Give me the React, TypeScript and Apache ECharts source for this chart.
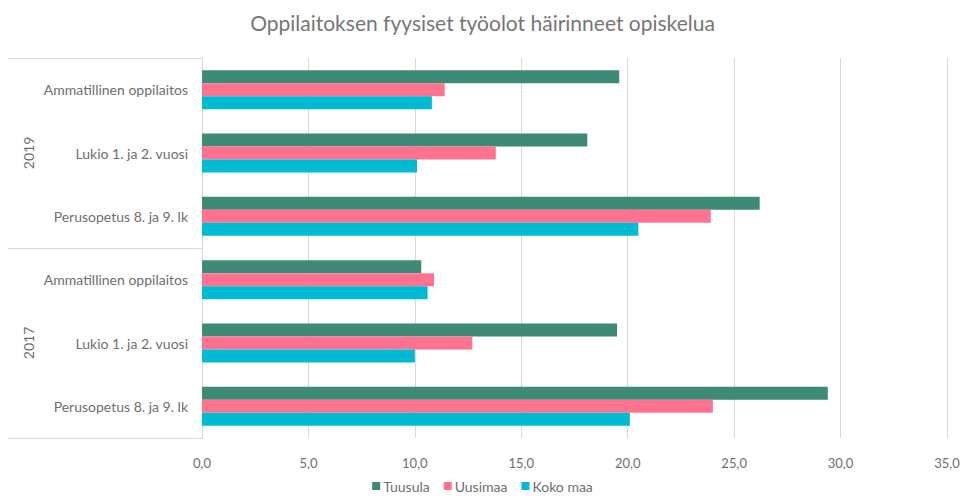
import React, { useEffect, useRef } from "react";
import * as echarts from "echarts";

const years = ["2019", "2017"];
const schoolTypes = ["Ammatillinen oppilaitos", "Lukio 1. ja 2. vuosi", "Perusopetus 8. ja 9. lk"];
// categories top-to-bottom: 2019 group then 2017 group
const categories = [...schoolTypes, ...schoolTypes];
const seriesNames = ["Tuusula", "Uusimaa", "Koko maa"];
const tuusula = [19.6, 18.1, 26.2, 10.3, 19.5, 29.4];
const uusimaa = [11.4, 13.8, 23.9, 10.9, 12.7, 24.0];
const kokoMaa = [10.8, 10.1, 20.5, 10.6, 10.0, 20.1];
const xTicksMax = 35;
const xTickStep = 5;
const colors = ["#3E8A76", "#FF7391", "#00BBD3"];

const FONT = "Lato, 'Open Sans', sans-serif";
const TEXT = "#6e6e6e";
const GRIDC = "#d9d9d9";

export default function App() {
  const ref = useRef<HTMLDivElement>(null);
  useEffect(() => {
    if (!ref.current) return;
    const chart = echarts.init(ref.current, undefined, { renderer: "svg" });
    const values = [tuusula, uusimaa, kokoMaa];
    chart.setOption({
      animation: false,
      color: colors,
      textStyle: { fontFamily: FONT },
      title: {
        text: "Oppilaitoksen fyysiset työolot häirinneet opiskelua",
        left: "center",
        top: 7,
        textStyle: { fontFamily: FONT, fontSize: 21, fontWeight: "normal", color: "#767676" },
      },
      legend: {
        data: seriesNames,
        bottom: 0,
        left: "center",
        itemWidth: 8,
        itemHeight: 8,
        itemGap: 14,
        icon: "rect",
        textStyle: { fontFamily: FONT, fontSize: 14, color: TEXT, padding: [0, 0, 0, -2] },
      },
      grid: { left: 202, right: 18, top: 58, bottom: 60, containLabel: false },
      xAxis: {
        type: "value",
        min: 0,
        max: xTicksMax,
        interval: xTickStep,
        axisLine: { show: false },
        axisTick: { show: false },
        splitLine: { lineStyle: { color: GRIDC, width: 1 } },
        axisLabel: {
          fontFamily: FONT,
          fontSize: 13,
          color: TEXT,
          margin: 18,
          formatter: (v: number) => v.toFixed(1).replace(".", ","),
        },
      },
      yAxis: [
        {
          type: "category",
          data: categories,
          inverse: true,
          axisLine: { show: false },
          axisTick: { show: false },
          axisLabel: { fontFamily: FONT, fontSize: 14, color: TEXT, margin: 14 },
        },
        {
          type: "category",
          data: years,
          inverse: true,
          position: "left",
          axisLine: { show: true, lineStyle: { color: GRIDC } },
          axisTick: { show: true, length: 194, lineStyle: { color: GRIDC } },
          axisLabel: {
            fontFamily: FONT,
            fontSize: 14,
            color: TEXT,
            rotate: 90,
            margin: 174,
            align: "center",
            verticalAlign: "middle",
          },
        },
      ],
      series: seriesNames.map((name, i) => ({
        name,
        type: "bar",
        yAxisIndex: 0,
        data: values[i],
        barWidth: 13,
        barGap: "0%",
        barCategoryGap: "38%",
        itemStyle: { color: colors[i] },
      })),
    });
    return () => chart.dispose();
  }, []);
  return <div ref={ref} style={{ width: 965, height: 498, position: "absolute", left: 0, top: 0 }} />;
}
